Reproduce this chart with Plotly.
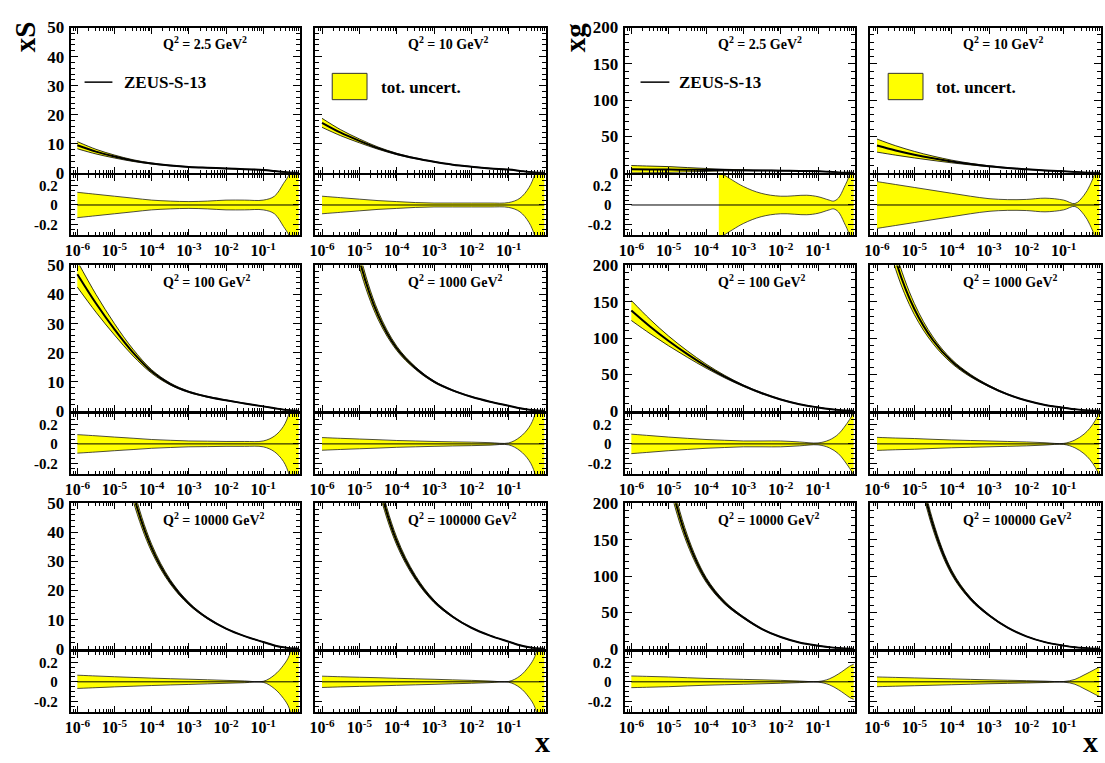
import plotly.graph_objects as go

# ---------------- data ----------------
X = [1e-6, 3.16e-6, 1e-5, 3.16e-5, 1e-4, 3.16e-4, 1e-3, 3.16e-3, 1e-2, 3.16e-2,
     0.1, 0.2, 0.35, 0.5, 0.7, 0.9]

# xS central values
XS_2p5 = [9.5, 7.3, 5.6, 4.2, 3.2, 2.5, 2.0, 1.73, 1.5, 1.22, 1.0, 0.6, 0.25, 0.1, 0.02, 0.001]
XS_10 = [17.2, 13.8, 11.0, 8.5, 6.5, 5.0, 3.8, 2.8, 2.1, 1.52, 1.1, 0.65, 0.28, 0.11, 0.02, 0.001]
XS_100 = [47.0, 37.0, 28.0, 20.0, 13.5, 9.2, 6.5, 4.8, 3.6, 2.5, 1.5, 0.87, 0.38, 0.15, 0.027, 0.002]
XS_1000 = [139.0, 84.0, 52.0, 32.9, 21.5, 14.7, 10.0, 7.0, 4.8, 3.1, 1.7, 0.85, 0.35, 0.13, 0.025, 0.001]
XS_10000 = [205.0, 130.0, 82.6, 53.3, 34.6, 23.0, 15.5, 10.5, 6.9, 4.3, 2.3, 1.1, 0.45, 0.16, 0.03, 0.001]
XS_100000 = [240.0, 150.0, 93.0, 58.0, 37.0, 24.5, 16.3, 11.0, 7.2, 4.5, 2.4, 1.15, 0.47, 0.17, 0.03, 0.001]

# xS relative total uncertainty
XS_2p5_UNC = [0.13, 0.11, 0.09, 0.07, 0.05, 0.04, 0.035, 0.04, 0.05, 0.05, 0.05, 0.09, 0.22, 0.32, 0.6, 1.0]
XS_10_UNC = [0.09, 0.075, 0.06, 0.045, 0.035, 0.025, 0.02, 0.02, 0.02, 0.02, 0.025, 0.07, 0.18, 0.32, 0.6, 1.0]
XS_100_UNC = [0.095, 0.083, 0.07, 0.058, 0.045, 0.037, 0.03, 0.028, 0.025, 0.025, 0.03, 0.08, 0.18, 0.32, 0.6, 1.0]
XS_1000_UNC = [0.065, 0.057, 0.05, 0.043, 0.035, 0.03, 0.025, 0.021, 0.018, 0.013, 0.01, 0.07, 0.17, 0.3, 0.6, 1.0]
XS_10000_UNC = [0.068, 0.06, 0.052, 0.045, 0.038, 0.032, 0.027, 0.021, 0.015, 0.009, 0.005, 0.07, 0.17, 0.27, 0.55, 1.0]
XS_100000_UNC = [0.058, 0.052, 0.047, 0.042, 0.036, 0.031, 0.026, 0.02, 0.015, 0.008, 0.004, 0.06, 0.16, 0.26, 0.5, 1.0]

# xg central values
XG_2p5 = [5.0, 4.74, 4.5, 4.24, 4.0, 3.74, 3.5, 3.24, 3.0, 2.57, 2.2, 1.4, 0.6, 0.25, 0.05, 0.005]
XG_10 = [37.5, 30.8, 25.0, 20.0, 15.6, 12.0, 9.0, 6.7, 4.8, 3.2, 2.0, 1.1, 0.45, 0.17, 0.03, 0.002]
XG_100 = [138.0, 116.0, 96.0, 78.0, 61.5, 47.0, 34.5, 24.0, 15.5, 9.0, 4.6, 2.3, 0.9, 0.33, 0.06, 0.003]
XG_1000 = [320.0, 207.0, 140.0, 97.0, 68.0, 48.5, 34.0, 22.5, 14.0, 8.0, 4.2, 2.0, 0.8, 0.28, 0.05, 0.003]
XG_10000 = [614.0, 384.0, 240.0, 150.0, 95.0, 63.3, 43.0, 27.0, 16.0, 8.5, 4.0, 1.9, 0.75, 0.27, 0.05, 0.003]
XG_100000 = [717.0, 448.0, 280.0, 170.0, 105.0, 69.0, 46.0, 29.0, 17.0, 9.0, 4.2, 2.0, 0.8, 0.28, 0.05, 0.003]

# xg relative total uncertainty
XG_2p5_UNC = [1.0, 0.95, 0.9, 0.7, 0.5, 0.3, 0.19, 0.12, 0.09, 0.1, 0.08, 0.045, 0.07, 0.18, 0.32, 0.8]
XG_10_UNC = [0.24, 0.21, 0.18, 0.15, 0.12, 0.09, 0.065, 0.055, 0.057, 0.07, 0.05, 0.015, 0.1, 0.2, 0.35, 0.8]
XG_100_UNC = [0.1, 0.085, 0.07, 0.057, 0.045, 0.037, 0.03, 0.03, 0.03, 0.02, 0.01, 0.04, 0.1, 0.17, 0.25, 0.32]
XG_1000_UNC = [0.067, 0.06, 0.055, 0.047, 0.04, 0.035, 0.03, 0.025, 0.02, 0.012, 0.005, 0.04, 0.1, 0.16, 0.24, 0.33]
XG_10000_UNC = [0.06, 0.055, 0.05, 0.042, 0.035, 0.03, 0.025, 0.02, 0.015, 0.008, 0.003, 0.03, 0.08, 0.12, 0.16, 0.18]
XG_100000_UNC = [0.05, 0.045, 0.04, 0.035, 0.03, 0.025, 0.02, 0.016, 0.012, 0.007, 0.003, 0.025, 0.07, 0.1, 0.13, 0.15]

# ratio band for xg at Q2 = 2.5 is only drawn from x ~ 2.2e-4 upward
XG_2p5_RATIO_X = [2.2e-4, 3e-4, 1e-3, 3e-3, 1e-2, 0.05, 0.1, 0.2, 0.26, 0.35, 0.5, 0.7, 0.9]
XG_2p5_RATIO_UNC = [0.34, 0.31, 0.19, 0.12, 0.09, 0.1, 0.085, 0.05, 0.04, 0.07, 0.18, 0.32, 0.8]

Q2_LABELS = ["2.5", "10", "100", "1000", "10000", "100000"]
X_TICK_VALUES = [1e-6, 1e-5, 1e-4, 1e-3, 1e-2, 1e-1]
X_TICK_TEXT = ["10<sup>-6</sup>", "10<sup>-5</sup>", "10<sup>-4</sup>",
               "10<sup>-3</sup>", "10<sup>-2</sup>", "10<sup>-1</sup>"]
RATIO_TICK_VALUES = [-0.2, 0.0, 0.2]
RATIO_TICK_TEXT = ["-0.2", "0", "0.2"]

# ---------------- layout geometry (page pixels) ----------------
W, H = 1105, 763
FONT = "Liberation Serif"
YELLOW = "#ffff00"
COLS = [(65, 296), (311, 543), (622, 854), (869, 1101)]
MAIN_ROWS = [(19, 168), (263, 412), (507, 656)]
RATIO_ROWS = [(170, 232), (415, 477), (659, 721)]


def px(x):
    return x / W


def py(y):
    return 1 - y / H


def xd(a, b):
    return [px(a), px(b)]


def yd(t, b):
    return [py(b), py(t)]


minor_x = []
for e in range(-7, 0):
    for m in range(2, 10):
        minor_x.append(m * 10.0 ** e)

panels = [
    # (col, row, central, unc, ymax, q2 label index)
    (0, 0, XS_2p5, XS_2p5_UNC, 50, 0),
    (1, 0, XS_10, XS_10_UNC, 50, 1),
    (0, 1, XS_100, XS_100_UNC, 50, 2),
    (1, 1, XS_1000, XS_1000_UNC, 50, 3),
    (0, 2, XS_10000, XS_10000_UNC, 50, 4),
    (1, 2, XS_100000, XS_100000_UNC, 50, 5),
    (2, 0, XG_2p5, XG_2p5_UNC, 200, 0),
    (3, 0, XG_10, XG_10_UNC, 200, 1),
    (2, 1, XG_100, XG_100_UNC, 200, 2),
    (3, 1, XG_1000, XG_1000_UNC, 200, 3),
    (2, 2, XG_10000, XG_10000_UNC, 200, 4),
    (3, 2, XG_100000, XG_100000_UNC, 200, 5),
]

fig = go.Figure()
layout = dict(
    width=W, height=H, autosize=False,
    margin=dict(l=0, r=0, t=0, b=0),
    paper_bgcolor="white", plot_bgcolor="white",
    showlegend=False,
    font=dict(family=FONT, color="black"),
)
annotations = []
shapes = []


def tf(size):
    return dict(family=FONT, size=size, color="black", weight="bold")


def base_axis():
    return dict(showline=True, linecolor="black", linewidth=2, mirror="allticks",
                ticks="inside", tickcolor="black", tickwidth=1,
                showgrid=False, zeroline=False, fixedrange=True)


for k, (col, row, cen, unc, ymax, qi) in enumerate(panels):
    nm = 2 * k + 1
    nr = 2 * k + 2
    c0, c1 = COLS[col]
    mt, mb = MAIN_ROWS[row]
    rt, rb = RATIO_ROWS[row]
    show_y = col in (0, 2)

    # ---- main panel axes
    xa = base_axis()
    xa.update(domain=xd(c0, c1), anchor=f"y{nm}", type="log", range=[-6.18, 0],
              tickmode="array", tickvals=X_TICK_VALUES, ticktext=X_TICK_TEXT,
              showticklabels=False, ticklen=6, tickfont=tf(16),
              minor=dict(tickmode="array", tickvals=minor_x, ticks="inside",
                         ticklen=3, tickwidth=1, tickcolor="black", showgrid=False))
    ya = base_axis()
    ystep = 10 if ymax == 50 else 50
    ya.update(domain=yd(mt, mb), anchor=f"x{nm}", range=[0, ymax],
              tickmode="linear", tick0=0, dtick=ystep, ticklen=7,
              showticklabels=show_y, tickfont=tf(17), ticklabelstandoff=1,
              minor=dict(dtick=ystep / 5, ticks="inside", ticklen=4, tickwidth=1,
                         tickcolor="black", showgrid=False))
    layout["xaxis" if nm == 1 else f"xaxis{nm}"] = xa
    layout["yaxis" if nm == 1 else f"yaxis{nm}"] = ya

    # ---- ratio panel axes
    xr = base_axis()
    xr.update(domain=xd(c0, c1), anchor=f"y{nr}", type="log", range=[-6.18, 0],
              tickmode="array", tickvals=X_TICK_VALUES, ticktext=X_TICK_TEXT,
              showticklabels=True, ticklen=6, tickfont=tf(16),
              minor=dict(tickmode="array", tickvals=minor_x, ticks="inside",
                         ticklen=3, tickwidth=1, tickcolor="black", showgrid=False))
    yr = base_axis()
    yr.update(domain=yd(rt, rb), anchor=f"x{nr}", range=[-0.31, 0.31],
              tickmode="array", tickvals=RATIO_TICK_VALUES, ticktext=RATIO_TICK_TEXT,
              ticklen=7, showticklabels=show_y, tickfont=tf(15), ticklabelstandoff=8,
              minor=dict(tickmode="linear", tick0=0, dtick=0.05, ticks="inside",
                         ticklen=4, tickwidth=1, tickcolor="black", showgrid=False))
    layout[f"xaxis{nr}"] = xr
    layout[f"yaxis{nr}"] = yr

    # ---- main panel traces
    lo = [c * (1 - u) for c, u in zip(cen, unc)]
    hi = [c * (1 + u) for c, u in zip(cen, unc)]
    ax_m = dict(xaxis=f"x{nm}", yaxis=f"y{nm}")
    fig.add_trace(go.Scatter(x=X, y=lo, mode="lines",
                             line=dict(color="black", width=0.8, shape="spline"), **ax_m))
    fig.add_trace(go.Scatter(x=X, y=hi, mode="lines", fill="tonexty", fillcolor=YELLOW,
                             line=dict(color="black", width=0.8, shape="spline"), **ax_m))
    fig.add_trace(go.Scatter(x=X, y=cen, mode="lines",
                             line=dict(color="black", width=2, shape="spline"), **ax_m))

    # ---- ratio panel traces
    ax_r = dict(xaxis=f"x{nr}", yaxis=f"y{nr}")
    if cen is XG_2p5:
        rx, ru = XG_2p5_RATIO_X, XG_2p5_RATIO_UNC
    else:
        rx, ru = X, unc
    fig.add_trace(go.Scatter(x=rx, y=[-u for u in ru], mode="lines",
                             line=dict(color="#222222", width=0.8, shape="spline"), **ax_r))
    fig.add_trace(go.Scatter(x=rx, y=list(ru), mode="lines", fill="tonexty", fillcolor=YELLOW,
                             line=dict(color="#222222", width=0.8, shape="spline"), **ax_r))
    fig.add_trace(go.Scatter(x=X, y=[0.0] * len(X), mode="lines",
                             line=dict(color="black", width=1), **ax_r))

    # ---- Q2 label
    annotations.append(dict(
        x=px(c0 + 0.395 * (c1 - c0)), y=py(mt + 16), xref="paper", yref="paper",
        xanchor="left", yanchor="middle", showarrow=False,
        text=f"Q<sup>2</sup> = {Q2_LABELS[qi]} GeV<sup>2</sup>",
        font=tf(14)))

# ---- legends
for lx0, lx1, tx in [(79, 107, 117), (638, 667, 675)]:
    shapes.append(dict(type="line", xref="paper", yref="paper",
                       x0=px(lx0), x1=px(lx1), y0=py(75), y1=py(75),
                       line=dict(color="black", width=1.5)))
    annotations.append(dict(x=px(tx), y=py(75.5), xref="paper", yref="paper",
                            xanchor="left", yanchor="middle", showarrow=False,
                            text="ZEUS-S-13", font=tf(17)))
for bx0, bx1, tx in [(328, 363, 375), (887, 922, 933)]:
    shapes.append(dict(type="rect", xref="paper", yref="paper",
                       x0=px(bx0), x1=px(bx1), y0=py(93), y1=py(66),
                       fillcolor=YELLOW, line=dict(color="#333333", width=1)))
    annotations.append(dict(x=px(tx), y=py(80.5), xref="paper", yref="paper",
                            xanchor="left", yanchor="middle", showarrow=False,
                            text="tot. uncert.", font=tf(17)))

# ---- axis titles
annotations.append(dict(x=px(19), y=py(28), xref="paper", yref="paper",
                        xanchor="center", yanchor="middle", showarrow=False, textangle=-90,
                        text="xS", font=tf(29)))
annotations.append(dict(x=px(572), y=py(29), xref="paper", yref="paper",
                        xanchor="center", yanchor="middle", showarrow=False, textangle=-90,
                        text="xg", font=tf(29)))
for xx in (539, 1090):
    annotations.append(dict(x=px(xx), y=py(751), xref="paper", yref="paper",
                            xanchor="center", yanchor="middle", showarrow=False,
                            text="x", font=tf(30)))

layout["annotations"] = annotations
layout["shapes"] = shapes
fig.update_layout(**layout)
fig.write_html("out.html")
